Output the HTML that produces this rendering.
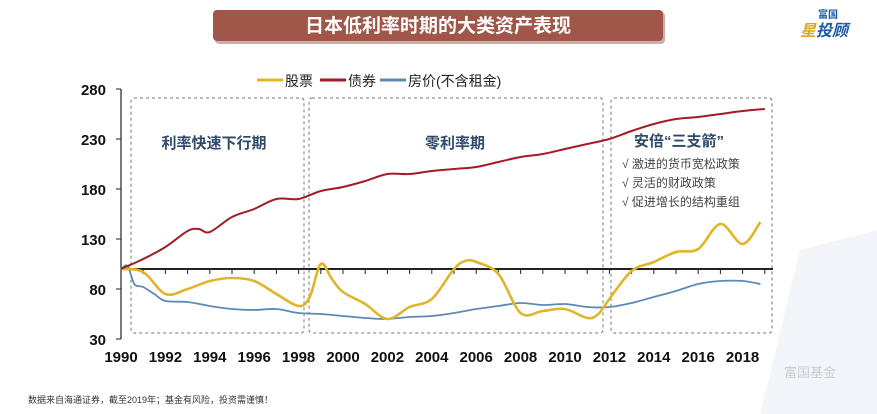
<!DOCTYPE html>
<html><head><meta charset="utf-8">
<style>
body{margin:0;width:877px;height:414px;background:#fff;overflow:hidden;font-family:"Liberation Sans","Noto Sans CJK SC",sans-serif;}
svg{position:absolute;left:0;top:0}
</style></head>
<body>
<svg id="c" width="877" height="414">
  <path d="M800 250 L877 230 L877 414 L760 414 Z" fill="#f3f5fa"/>
  <rect x="215" y="12" width="450" height="32" rx="4" fill="#c9b0a8"/>
  <rect x="213" y="10" width="450" height="31" rx="4" fill="#a0574a"/>
  <text x="438" y="32" text-anchor="middle" fill="#fff" font-size="19" font-weight="bold">日本低利率时期的大类资产表现</text>
  <text x="818" y="18" fill="#1b5aa5" font-size="10" font-weight="bold">富国</text>
  <text x="800" y="36" fill="#1b5aa5" font-size="16" font-weight="bold" font-style="italic"><tspan fill="#d9a72a">星</tspan>投顾</text>
  <text x="784" y="377" fill="#c9ccd2" font-size="13">富国基金</text>
  <text x="28" y="403" fill="#333" font-size="9">数据来自海通证券，截至2019年；基金有风险，投资需谨慎！</text>
  <g id="legend" font-size="14" fill="#222">
    <line x1="257" y1="80" x2="283" y2="80" stroke="#e0b52a" stroke-width="3"/>
    <text x="285" y="86">股票</text>
    <line x1="320" y1="80" x2="346" y2="80" stroke="#a01c28" stroke-width="3"/>
    <text x="348" y="86">债券</text>
    <line x1="380" y1="80" x2="406" y2="80" stroke="#5d8ab5" stroke-width="3"/>
    <text x="408" y="86">房价(不含租金)</text>
  </g>
  <g id="boxes" fill="none" stroke="#777" stroke-dasharray="3,3" stroke-width="1">
    <rect x="131" y="98" width="173" height="235" rx="3"/>
    <rect x="309" y="98" width="294" height="235" rx="3"/>
    <rect x="611" y="98" width="161" height="235" rx="3"/>
  </g>
  <g fill="#2f4a6b" font-weight="bold" font-size="15">
    <text x="214" y="148" text-anchor="middle">利率快速下行期</text>
    <text x="455" y="148" text-anchor="middle">零利率期</text>
    <text x="634" y="146">安倍“三支箭”</text>
  </g>
  <g fill="#444" font-size="12">
    <text x="622" y="168">√ 激进的货币宽松政策</text>
    <text x="622" y="187">√ 灵活的财政政策</text>
    <text x="622" y="206">√ 促进增长的结构重组</text>
  </g>
  <g id="axes"></g>
  <g id="series"></g>
</svg>
<script>
const yTicks=[30,80,130,180,230,280];
const xTicks=[1990,1992,1994,1996,1998,2000,2002,2004,2006,2008,2010,2012,2014,2016,2018];
const stockYears=[1990,1991,1992,1993,1994,1995,1996,1997,1998,1998.5,1999,1999.5,2000,2001,2002,2003,2004,2005,2005.5,2006,2007,2008,2009,2010,2011,2011.5,2012,2013,2014,2015,2016,2017,2018,2018.8];
const stockVals=[100,97,75,80,88,91,88,75,63,72,105,90,77,65,50,62,70,100,108,107,95,56,58,60,51,55,70,98,107,117,120,145,125,147];
const bondYears=[1990,1991,1992,1993,1993.5,1994,1995,1996,1997,1998,1999,2000,2001,2002,2003,2004,2005,2006,2007,2008,2009,2010,2011,2012,2013,2014,2015,2016,2017,2018,2019];
const bondVals=[100,110,122,138,140,137,152,160,170,170,178,182,188,195,195,198,200,202,207,212,215,220,225,230,238,245,250,252,255,258,260];
const houseYears=[1990,1990.3,1990.6,1991,1991.5,1992,1993,1994,1995,1996,1997,1998,1999,2000,2001,2002,2003,2004,2005,2006,2007,2008,2009,2010,2011,2012,2013,2014,2015,2016,2017,2018,2018.8];
const houseVals=[100,103,85,82,75,68,67,63,60,59,60,56,55,53,51,50,52,53,56,60,63,66,64,65,62,62,66,72,78,85,88,88,85];
const NS='http://www.w3.org/2000/svg';
const X=y=>121+(y-1990)*22.2;
const Y=v=>89+(280-v)*1.0;
function el(t,a,p){const e=document.createElementNS(NS,t);for(const k in a)e.setAttribute(k,a[k]);p.appendChild(e);return e;}
const ax=document.getElementById('axes');
let yl=el('line',{x1:121,y1:Y(280),x2:121,y2:Y(30),stroke:'#222','stroke-width':1.2},ax);


yTicks.forEach(v=>{
  let t=el('line',{x1:116,y1:Y(v),x2:121,y2:Y(v),stroke:'#222'},ax);
  
  
  let l=el('text',{x:106,y:Y(v)+6,'text-anchor':'end','font-size':15,'font-weight':'bold',fill:'#111'},ax);l.textContent=v;
  
  
});
let xl=el('line',{x1:121,y1:Y(100),x2:773,y2:Y(100),stroke:'#222','stroke-width':2},ax);


for(let yr=1990;yr<=2019;yr++){
  let t=el('line',{x1:X(yr),y1:Y(100),x2:X(yr),y2:Y(100)+5,stroke:'#222'},ax);
  
  
}
xTicks.forEach(yr=>{
  let l=el('text',{x:X(yr),y:362,'text-anchor':'middle','font-size':15,'font-weight':'bold',fill:'#111'},ax);l.textContent=yr;
  
  
});
function smooth(xs,vs){
  const p=xs.map((x,i)=>[X(x),Y(vs[i])]);
  let d='M'+p[0][0].toFixed(1)+' '+p[0][1].toFixed(1);
  for(let i=0;i<p.length-1;i++){
    const p0=p[i-1]||p[i],p1=p[i],p2=p[i+1],p3=p[i+2]||p2;
    const c1=[p1[0]+(p2[0]-p0[0])/6,p1[1]+(p2[1]-p0[1])/6];
    const c2=[p2[0]-(p3[0]-p1[0])/6,p2[1]-(p3[1]-p1[1])/6];
    d+=` C${c1[0].toFixed(1)} ${c1[1].toFixed(1)} ${c2[0].toFixed(1)} ${c2[1].toFixed(1)} ${p2[0].toFixed(1)} ${p2[1].toFixed(1)}`;
  }
  return d;
}
const sg=document.getElementById('series');
let h=el('path',{d:smooth(houseYears,houseVals),fill:'none',stroke:'#5d8ab5','stroke-width':1.8},sg);


let s=el('path',{d:smooth(stockYears,stockVals),fill:'none',stroke:'#e0b52a','stroke-width':2.6},sg);


let b=el('path',{d:smooth(bondYears,bondVals),fill:'none',stroke:'#a01c28','stroke-width':2},sg);


</script>
</body></html>
